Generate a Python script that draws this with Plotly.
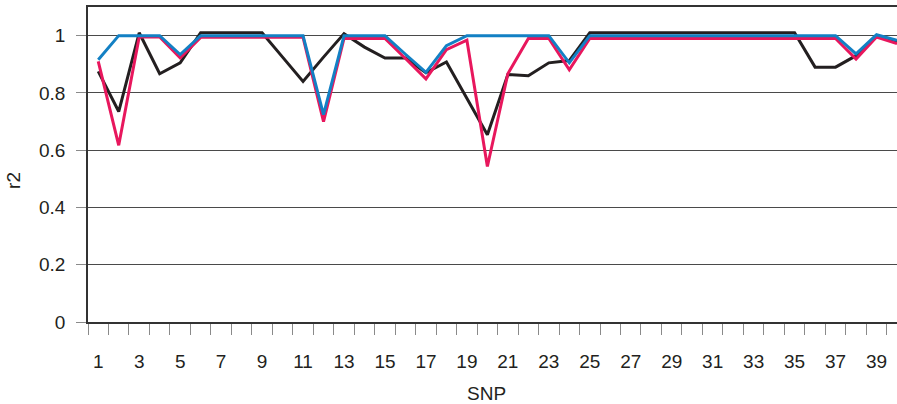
import plotly.graph_objects as go

# SNP index along the x axis
snp = list(range(1, 41))

# pairwise r2 per SNP for the three series
r2_black = [0.875, 0.735, 1.01, 0.867, 0.905, 1.01, 1.01, 1.01, 1.01, 0.925,
            0.84, 0.925, 1.007, 0.96, 0.922, 0.922, 0.87, 0.908, 0.78, 0.654,
            0.864, 0.86, 0.905, 0.913, 1.01, 1.01, 1.01, 1.01, 1.01, 1.01,
            1.01, 1.01, 1.01, 1.01, 1.01, 0.89, 0.89, 0.93, 1.0, 0.98]
r2_pink = [0.91, 0.617, 0.995, 0.995, 0.922, 0.994, 0.994, 0.994, 0.994, 0.994,
           0.994, 0.70, 0.99, 0.99, 0.99, 0.92, 0.849, 0.951, 0.984, 0.543,
           0.867, 0.99, 0.99, 0.881, 0.99, 0.99, 0.99, 0.99, 0.99, 0.99,
           0.99, 0.99, 0.99, 0.99, 0.99, 0.99, 0.99, 0.918, 0.995, 0.972]
r2_blue = [0.916, 1.0, 1.0, 1.0, 0.934, 1.0, 1.0, 1.0, 1.0, 1.0,
           1.0, 0.724, 1.0, 1.0, 1.0, 0.935, 0.872, 0.965, 1.0, 1.0,
           1.0, 1.0, 1.0, 0.905, 1.0, 1.0, 1.0, 1.0, 1.0, 1.0,
           1.0, 1.0, 1.0, 1.0, 1.0, 1.0, 1.0, 0.936, 1.003, 0.984]

x_labels = list(range(1, 40, 2))
y_ticks = [0, 0.2, 0.4, 0.6, 0.8, 1.0]

FONT = "Liberation Sans, Arial, Helvetica, sans-serif"
SIZE = 19

fig = go.Figure()
for values, color in [(r2_black, "#231f20"), (r2_pink, "#e8175d"), (r2_blue, "#1380c4")]:
    fig.add_trace(go.Scatter(x=snp, y=values, mode="lines",
                             line=dict(color=color, width=3), showlegend=False))

fig.update_layout(
    width=897, height=404,
    margin=dict(l=88, r=0, t=7, b=82),
    paper_bgcolor="white", plot_bgcolor="white",
    font=dict(family=FONT, size=SIZE, color="#231f20"),
    xaxis=dict(
        range=[0.5, 40.0],
        tickmode="array", tickvals=x_labels, ticktext=[str(v) for v in x_labels],
        ticks="", ticklabelstandoff=21,
        showline=True, linecolor="#333333", linewidth=1.5, mirror=True,
        showgrid=False, zeroline=False,
        minor=dict(tickmode="linear", tick0=0.5, dtick=1, ticks="outside",
                   ticklen=11, tickwidth=1, tickcolor="#8a8a8a", showgrid=False),
    ),
    yaxis=dict(
        range=[0, 1.1],
        tickmode="array", tickvals=y_ticks, ticktext=["0", "0.2", "0.4", "0.6", "0.8", "1"],
        ticks="outside", ticklen=10, tickwidth=1, tickcolor="#8a8a8a",
        ticklabelstandoff=7,
        showline=True, linecolor="#333333", linewidth=1.5,
        showgrid=True, gridcolor="#4a4a4a", gridwidth=1, zeroline=False,
    ),
    annotations=[
        dict(text="SNP", xref="paper", yref="paper", x=0.493, y=-0.226,
             xanchor="center", yanchor="middle", showarrow=False,
             font=dict(family=FONT, size=SIZE, color="#231f20")),
        dict(text="r2", xref="paper", yref="paper", x=-0.0915, y=0.451,
             xanchor="center", yanchor="middle", textangle=-90, showarrow=False,
             font=dict(family=FONT, size=SIZE, color="#231f20")),
    ],
)

fig.write_html("out.html")
